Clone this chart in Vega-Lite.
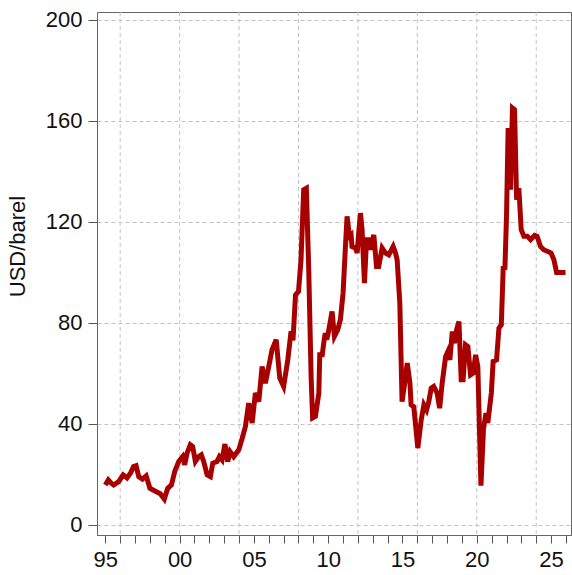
{
  "$schema": "https://vega.github.io/schema/vega-lite/v6.json",
  "width": 474,
  "height": 523,
  "autosize": {"type": "none"},
  "padding": {"left": 97, "top": 12, "right": 1, "bottom": 40},
  "background": "white",
  "config": {
    "view": {"stroke": "#666666", "strokeWidth": 1},
    "font": "Liberation Sans"
  },
  "datasets": {
    "price": [
      {"t": 1995.00, "v": 15.8}, {"t": 1995.20, "v": 17.8}, {"t": 1995.40, "v": 16.5}, {"t": 1995.56, "v": 15.8},
      {"t": 1995.90, "v": 17.1}, {"t": 1996.20, "v": 19.8}, {"t": 1996.46, "v": 18.6}, {"t": 1996.70, "v": 20.5},
      {"t": 1996.90, "v": 23.1}, {"t": 1997.07, "v": 23.4}, {"t": 1997.25, "v": 19.1}, {"t": 1997.50, "v": 18.1},
      {"t": 1997.75, "v": 19.4}, {"t": 1998.00, "v": 14.5}, {"t": 1998.40, "v": 13.2}, {"t": 1998.70, "v": 12.3},
      {"t": 1998.97, "v": 10.2}, {"t": 1999.20, "v": 14.5}, {"t": 1999.45, "v": 15.8}, {"t": 1999.67, "v": 21.1},
      {"t": 1999.94, "v": 25.1}, {"t": 2000.20, "v": 27.0}, {"t": 2000.34, "v": 23.8}, {"t": 2000.50, "v": 28.4},
      {"t": 2000.72, "v": 31.7}, {"t": 2000.88, "v": 31.0}, {"t": 2001.06, "v": 25.1}, {"t": 2001.28, "v": 27.0},
      {"t": 2001.46, "v": 27.7}, {"t": 2001.62, "v": 25.1}, {"t": 2001.85, "v": 19.8}, {"t": 2002.07, "v": 19.1},
      {"t": 2002.23, "v": 24.4}, {"t": 2002.52, "v": 25.1}, {"t": 2002.68, "v": 27.0}, {"t": 2002.86, "v": 25.7},
      {"t": 2003.05, "v": 32.0}, {"t": 2003.24, "v": 25.1}, {"t": 2003.40, "v": 29.0}, {"t": 2003.64, "v": 27.0},
      {"t": 2003.98, "v": 29.7}, {"t": 2004.20, "v": 34.0}, {"t": 2004.43, "v": 39.0}, {"t": 2004.65, "v": 48.2},
      {"t": 2004.88, "v": 40.3}, {"t": 2005.10, "v": 52.2}, {"t": 2005.33, "v": 48.8}, {"t": 2005.55, "v": 62.7},
      {"t": 2005.77, "v": 56.1}, {"t": 2006.00, "v": 62.7}, {"t": 2006.22, "v": 69.3}, {"t": 2006.50, "v": 73.3},
      {"t": 2006.74, "v": 58.1}, {"t": 2007.00, "v": 54.8}, {"t": 2007.28, "v": 65.3}, {"t": 2007.50, "v": 76.6},
      {"t": 2007.63, "v": 73.0}, {"t": 2007.80, "v": 91.0}, {"t": 2008.00, "v": 92.4}, {"t": 2008.17, "v": 104.9},
      {"t": 2008.35, "v": 132.7}, {"t": 2008.53, "v": 133.3}, {"t": 2008.69, "v": 101.0}, {"t": 2008.85, "v": 58.7},
      {"t": 2008.95, "v": 42.3}, {"t": 2009.14, "v": 42.9}, {"t": 2009.37, "v": 52.2}, {"t": 2009.43, "v": 67.3},
      {"t": 2009.60, "v": 67.3}, {"t": 2009.70, "v": 72.0}, {"t": 2009.80, "v": 75.9}, {"t": 2009.90, "v": 73.3},
      {"t": 2010.00, "v": 75.9}, {"t": 2010.26, "v": 84.5}, {"t": 2010.42, "v": 74.6}, {"t": 2010.64, "v": 77.2},
      {"t": 2010.82, "v": 81.2}, {"t": 2011.00, "v": 91.7}, {"t": 2011.16, "v": 110.2}, {"t": 2011.27, "v": 122.1},
      {"t": 2011.43, "v": 114.2}, {"t": 2011.54, "v": 114.8}, {"t": 2011.60, "v": 110.2}, {"t": 2011.83, "v": 109.6},
      {"t": 2011.95, "v": 107.6}, {"t": 2012.06, "v": 116.1}, {"t": 2012.17, "v": 123.4}, {"t": 2012.28, "v": 116.8},
      {"t": 2012.44, "v": 95.7}, {"t": 2012.58, "v": 112.9}, {"t": 2012.73, "v": 112.9}, {"t": 2012.84, "v": 108.9},
      {"t": 2013.07, "v": 114.8}, {"t": 2013.25, "v": 102.3}, {"t": 2013.40, "v": 102.3}, {"t": 2013.63, "v": 109.6},
      {"t": 2013.86, "v": 107.6}, {"t": 2014.08, "v": 106.9}, {"t": 2014.37, "v": 110.2}, {"t": 2014.53, "v": 107.6},
      {"t": 2014.64, "v": 104.9}, {"t": 2014.82, "v": 87.8}, {"t": 2014.97, "v": 48.8}, {"t": 2015.13, "v": 55.4},
      {"t": 2015.32, "v": 64.0}, {"t": 2015.50, "v": 56.1}, {"t": 2015.58, "v": 47.5}, {"t": 2015.76, "v": 46.8},
      {"t": 2016.03, "v": 30.4}, {"t": 2016.26, "v": 41.6}, {"t": 2016.44, "v": 47.5}, {"t": 2016.62, "v": 45.5},
      {"t": 2016.77, "v": 48.8}, {"t": 2016.93, "v": 54.1}, {"t": 2017.10, "v": 54.8}, {"t": 2017.33, "v": 52.2},
      {"t": 2017.50, "v": 46.2}, {"t": 2017.67, "v": 56.1}, {"t": 2017.90, "v": 66.6}, {"t": 2018.05, "v": 68.6},
      {"t": 2018.19, "v": 65.3}, {"t": 2018.35, "v": 76.6}, {"t": 2018.50, "v": 71.9}, {"t": 2018.64, "v": 77.2},
      {"t": 2018.80, "v": 80.5}, {"t": 2018.95, "v": 57.4}, {"t": 2019.08, "v": 57.4}, {"t": 2019.24, "v": 71.3},
      {"t": 2019.40, "v": 70.6}, {"t": 2019.58, "v": 59.4}, {"t": 2019.76, "v": 60.1}, {"t": 2019.92, "v": 67.3},
      {"t": 2020.07, "v": 62.7}, {"t": 2020.28, "v": 15.5}, {"t": 2020.45, "v": 38.0}, {"t": 2020.62, "v": 44.2},
      {"t": 2020.74, "v": 40.3}, {"t": 2020.98, "v": 52.2}, {"t": 2021.10, "v": 64.7}, {"t": 2021.33, "v": 65.3},
      {"t": 2021.49, "v": 77.9}, {"t": 2021.65, "v": 79.2}, {"t": 2021.78, "v": 102.3}, {"t": 2021.89, "v": 101.0},
      {"t": 2022.00, "v": 122.1}, {"t": 2022.11, "v": 157.1}, {"t": 2022.27, "v": 132.7}, {"t": 2022.40, "v": 165.0},
      {"t": 2022.54, "v": 164.3}, {"t": 2022.68, "v": 128.7}, {"t": 2022.83, "v": 133.3}, {"t": 2022.99, "v": 116.8},
      {"t": 2023.17, "v": 114.2}, {"t": 2023.40, "v": 114.2}, {"t": 2023.62, "v": 112.9}, {"t": 2023.89, "v": 114.6},
      {"t": 2024.06, "v": 114.2}, {"t": 2024.29, "v": 110.2}, {"t": 2024.50, "v": 108.9}, {"t": 2024.78, "v": 108.2},
      {"t": 2025.00, "v": 107.6}, {"t": 2025.19, "v": 104.9}, {"t": 2025.37, "v": 99.9}, {"t": 2025.64, "v": 99.9},
      {"t": 2025.97, "v": 99.9}
    ],
    "vgrid": [
      {"year": 1996}, {"year": 2000}, {"year": 2004}, {"year": 2008},
      {"year": 2012}, {"year": 2016}, {"year": 2020}, {"year": 2024}
    ]
  },
  "layer": [
    {
      "data": {"name": "vgrid"},
      "mark": {"type": "rule", "color": "#c4c4c4", "strokeWidth": 1, "strokeDash": [4, 3]},
      "encoding": {
        "x": {"field": "year", "type": "quantitative", "scale": {"domain": [1994.44, 2026.34], "nice": false, "zero": false}}
      }
    },
    {
      "data": {"name": "price"},
      "mark": {"type": "line", "color": "#a80000", "strokeWidth": 5, "clip": true},
      "encoding": {
        "x": {
          "field": "t", "type": "quantitative",
          "scale": {"domain": [1994.44, 2026.34], "nice": false, "zero": false},
          "axis": {
            "title": null,
            "values": [1995, 1996, 1997, 1998, 1999, 2000, 2001, 2002, 2003, 2004, 2005, 2006, 2007, 2008, 2009, 2010, 2011, 2012, 2013, 2014, 2015, 2016, 2017, 2018, 2019, 2020, 2021, 2022, 2023, 2024, 2025, 2026],
            "tickCount": 100,
            "labelExpr": "datum.value % 5 == 0 ? substring(toString(datum.value), 2, 4) : ''",
            "grid": false,
            "domainColor": "#666666",
            "tickColor": "#555555",
            "tickSize": 8,
            "labelPadding": 6,
            "labelFontSize": 22,
            "labelColor": "#111111",
            "labelFont": "Liberation Sans",
            "labelOverlap": false,
            "labelFlush": false
          }
        },
        "y": {
          "field": "v", "type": "quantitative",
          "scale": {"domain": [-4, 203], "nice": false, "zero": false},
          "axis": {
            "title": "USD/barel",
            "titleFontSize": 22,
            "titleFontWeight": "normal",
            "titleColor": "#111111",
            "titleFont": "Liberation Sans",
            "titleX": -68,
            "titleY": 234,
            "values": [0, 40, 80, 120, 160, 200],
            "grid": true,
            "gridColor": "#c4c4c4",
            "gridDash": [4, 3],
            "gridWidth": 1,
            "domainColor": "#666666",
            "tickColor": "#555555",
            "tickSize": 9,
            "labelPadding": 6,
            "labelFontSize": 22,
            "labelColor": "#111111",
            "labelFont": "Liberation Sans",
            "labelOverlap": false
          }
        }
      }
    }
  ]
}
